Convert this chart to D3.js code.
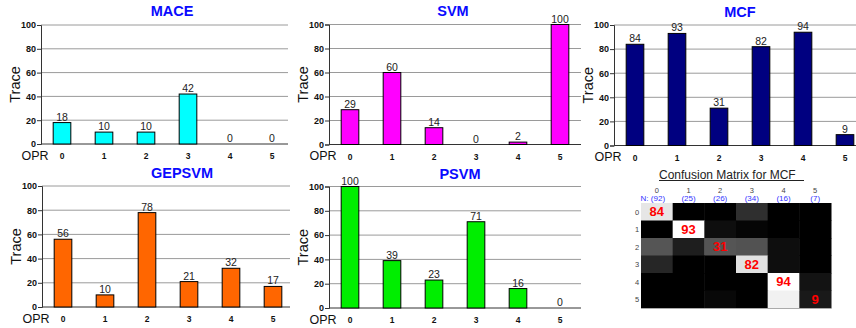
<!DOCTYPE html>
<html>
<head>
<meta charset="utf-8">
<script src="https://cdn.jsdelivr.net/npm/d3@7"></script>
<style>
  body { margin: 0; background: #fff; }
  svg { display: block; font-family: Arial, "Liberation Sans", sans-serif; }
</style>
</head>
<body>
<svg id="chart" width="856" height="328"></svg>
<script>
// ---------- data ----------
const opr = ["0", "1", "2", "3", "4", "5"];
const yTicks = [0, 20, 40, 60, 80, 100];
const mace = [18, 10, 10, 42, 0, 0];
const svm = [29, 60, 14, 0, 2, 100];
const mcf = [84, 93, 31, 82, 94, 9];
const gepsvm = [56, 10, 78, 21, 32, 17];
const psvm = [100, 39, 23, 71, 16, 0];
const classCounts = [92, 25, 26, 34, 16, 7];
const confRow0 = [84, 0, 0, 17, 0, 0];
const confRow1 = [0, 93, 5, 2, 0, 0];
const confRow2 = [31, 11, 31, 30, 5, 0];
const confRow3 = [14, 0, 0, 82, 5, 0];
const confRow4 = [0, 0, 0, 0, 94, 7];
const confRow5 = [0, 0, 3, 0, 88, 9];
const confusion = [confRow0, confRow1, confRow2, confRow3, confRow4, confRow5];

// ---------- layout ----------
const svg = d3.select("#chart");

const panels = [
  { title: "MACE",   values: mace,   color: "#00ffff", x0: 41,  top: 25,  bottom: 144, titleX: 172, titleY: 16,  gridEnd: 288 },
  { title: "SVM",    values: svm,    color: "#ff00ff", x0: 329, top: 24.5, bottom: 144.5, titleX: 453, titleY: 16, gridEnd: 581 },
  { title: "MCF",    values: mcf,    color: "#000080", x0: 614, top: 25,  bottom: 145.5, titleX: 740, titleY: 17, gridEnd: 856 },
  { title: "GEPSVM", values: gepsvm, color: "#ff6600", x0: 42,  top: 186, bottom: 307, titleX: 182, titleY: 178, gridEnd: 290 },
  { title: "PSVM",   values: psvm,   color: "#00ee00", x0: 329, top: 186.5, bottom: 308, titleX: 460, titleY: 179, gridEnd: 581 }
];

panels.forEach(p => {
  const g = svg.append("g");
  const x = d3.scaleBand().domain(opr).range([p.x0, p.x0 + 252]).paddingInner(0.58).paddingOuter(0.29);
  const y = d3.scaleLinear().domain([0, 100]).range([p.bottom, p.top]);

  // gridlines
  g.selectAll("line.grid").data(yTicks.filter(t => t > 0)).join("line")
    .attr("x1", p.x0).attr("x2", p.gridEnd)
    .attr("y1", d => y(d)).attr("y2", d => y(d))
    .attr("stroke", "#9a9a9a").attr("stroke-width", 1);

  // y axis
  const yAxis = d3.axisLeft(y).tickValues(yTicks).tickSize(4).tickPadding(1);
  const ya = g.append("g").attr("transform", `translate(${p.x0},0)`).call(yAxis);
  ya.select(".domain").attr("stroke", "#333");
  ya.selectAll(".tick line").attr("stroke", "#333");
  ya.selectAll(".tick text").attr("font-size", 9).attr("font-weight", "bold")
    .attr("fill", "#111").attr("font-family", "Arial, 'Liberation Sans', sans-serif");

  // x baseline
  g.append("line").attr("x1", p.x0).attr("x2", p.gridEnd)
    .attr("y1", y(0)).attr("y2", y(0)).attr("stroke", "#333").attr("stroke-width", 1);

  // x tick labels
  const xAxis = d3.axisBottom(x).tickSize(0).tickPadding(9);
  const xa = g.append("g").attr("transform", `translate(0,${y(0)})`).call(xAxis);
  xa.select(".domain").remove();
  xa.selectAll(".tick text").attr("font-size", 8.5).attr("font-weight", "bold")
    .attr("fill", "#111").attr("font-family", "Arial, 'Liberation Sans', sans-serif");

  // bars
  g.selectAll("rect.bar").data(p.values).join("rect")
    .attr("x", (d, i) => x(opr[i]))
    .attr("width", x.bandwidth())
    .attr("y", d => y(d))
    .attr("height", d => y(0) - y(d))
    .attr("fill", p.color)
    .attr("stroke", d => d > 0 ? "#000" : "none")
    .attr("stroke-width", 1);

  // value labels
  g.selectAll("text.val").data(p.values).join("text")
    .attr("x", (d, i) => x(opr[i]) + x.bandwidth() / 2)
    .attr("y", d => y(d) - 2)
    .attr("text-anchor", "middle")
    .attr("font-size", 10.5)
    .attr("fill", "#222")
    .text(d => d);

  // title
  g.append("text").attr("x", p.titleX).attr("y", p.titleY)
    .attr("text-anchor", "middle").attr("font-size", 14.5).attr("font-weight", "bold")
    .attr("fill", "#0a0aff").text(p.title);

  // y label
  g.append("text")
    .attr("transform", `translate(${p.x0 - 21},${(p.top + p.bottom) / 2}) rotate(-90)`)
    .attr("text-anchor", "middle").attr("font-size", 14.5).attr("fill", "#111")
    .text("Trace");

  // OPR label
  g.append("text").attr("x", p.x0 - 6).attr("y", y(0) + 15.5)
    .attr("text-anchor", "middle").attr("font-size", 12.5).attr("fill", "#111")
    .text("OPR");
});

// ---------- confusion matrix ----------
const cm = svg.append("g");
const cx = d3.scaleBand().domain(opr).range([641, 831]);
const cy = d3.scaleBand().domain(opr).range([203, 308]);
const gray = d3.scaleLinear().domain([0, 93]).range(["#000", "#fff"]).clamp(true);

const cells = [];
confusion.forEach((row, r) => row.forEach((v, c) => cells.push({ r, c, v })));

cm.selectAll("rect.cell").data(cells).join("rect")
  .attr("x", d => cx(opr[d.c])).attr("y", d => cy(opr[d.r]))
  .attr("width", cx.bandwidth() + 0.5).attr("height", cy.bandwidth() + 0.5)
  .attr("fill", d => gray(d.v));

cm.append("line").attr("x1", 641).attr("x2", 831).attr("y1", 308.5).attr("y2", 308.5)
  .attr("stroke", "#aaa").attr("stroke-width", 1);

// diagonal values
cm.selectAll("text.diag").data(cells.filter(d => d.r === d.c)).join("text")
  .attr("x", d => cx(opr[d.c]) + cx.bandwidth() / 2)
  .attr("y", d => cy(opr[d.r]) + cy.bandwidth() / 2 + 4.5)
  .attr("text-anchor", "middle").attr("font-size", 13).attr("font-weight", "bold")
  .attr("fill", "#ff0000").text(d => d.v);

// column headers
cm.selectAll("text.colh").data(opr).join("text")
  .attr("x", d => cx(d) + cx.bandwidth() / 2).attr("y", 193)
  .attr("text-anchor", "middle").attr("font-size", 7.5).attr("fill", "#444").text(d => d);
cm.selectAll("text.coln").data(classCounts).join("text")
  .attr("x", (d, i) => cx(opr[i]) + cx.bandwidth() / 2 - (i === 0 ? 4 : 0)).attr("y", 201)
  .attr("text-anchor", "middle").attr("font-size", 8).attr("fill", "#3333ff")
  .text((d, i) => (i === 0 ? "N: " : "") + "(" + d + ")");

// row headers
cm.selectAll("text.rowh").data(opr).join("text")
  .attr("x", 637).attr("y", d => cy(d) + cy.bandwidth() / 2 + 3)
  .attr("text-anchor", "middle").attr("font-size", 7.5).attr("fill", "#444").text(d => d);

// title
cm.append("text").attr("x", 659).attr("y", 178.5)
  .attr("font-size", 12).attr("fill", "#222").text("Confusion Matrix for MCF");
cm.append("line").attr("x1", 659).attr("x2", 804).attr("y1", 180.5).attr("y2", 180.5)
  .attr("stroke", "#222").attr("stroke-width", 1);
</script>
</body>
</html>
